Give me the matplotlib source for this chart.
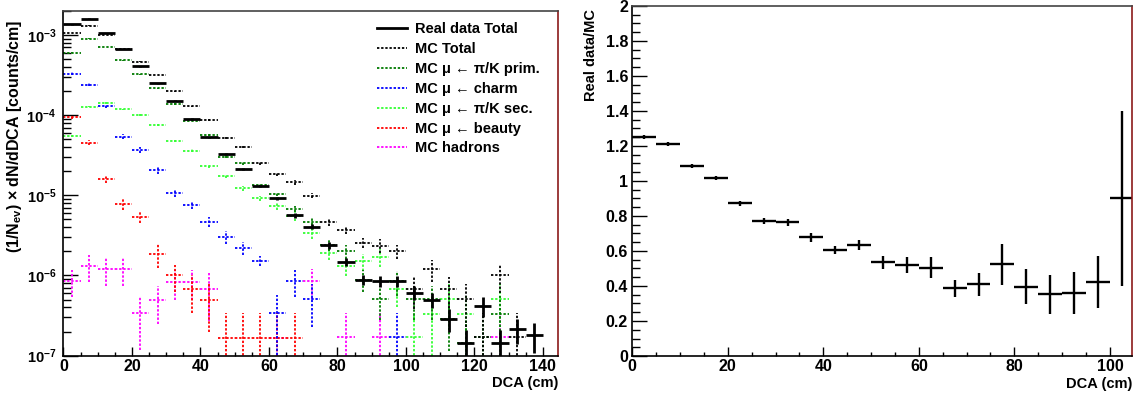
import numpy as np
import matplotlib
matplotlib.use('Agg')
import matplotlib.pyplot as plt
from matplotlib.lines import Line2D
from matplotlib.ticker import MultipleLocator, LogLocator, FuncFormatter, NullFormatter

plt.rcParams['font.family'] = ['Liberation Sans', 'DejaVu Sans']
plt.rcParams['font.weight'] = 'bold'
plt.rcParams['axes.labelweight'] = 'bold'
plt.rcParams['axes.unicode_minus'] = False
plt.rcParams['mathtext.fontset'] = 'custom'
plt.rcParams['mathtext.rm'] = 'Liberation Sans:bold'
plt.rcParams['mathtext.bf'] = 'Liberation Sans:bold'
plt.rcParams['mathtext.it'] = 'Liberation Sans:bold:italic'

nan = np.nan

# DCA bin centres (5 cm bins)
dca = [2.5, 7.5, 12.5, 17.5, 22.5, 27.5, 32.5, 37.5, 42.5, 47.5,
       52.5, 57.5, 62.5, 67.5, 72.5, 77.5, 82.5, 87.5, 92.5, 97.5,
       102.5, 107.5, 112.5, 117.5, 122.5, 127.5, 132.5, 137.5]
half_bin = 2.5

data_total = [1.35e-3, 1.59e-3, 1.06e-3, 6.67e-4, 4.06e-4, 2.48e-4, 1.51e-4, 8.9e-5, 5.28e-5, 3.25e-5,
              2.11e-5, 1.31e-5, 9.2e-6, 5.6e-6, 4.06e-6, 2.38e-6, 1.48e-6, 8.9e-7, 8.5e-7, 8.5e-7,
              6.1e-7, 5.0e-7, 2.9e-7, 1.43e-7, 4.2e-7, 1.43e-7, 2.13e-7, 1.8e-7]
data_rel = [0.01, 0.01, 0.01, 0.01, 0.01, 0.015, 0.015, 0.02, 0.02, 0.025,
            0.03, 0.04, 0.045, 0.06, 0.07, 0.09, 0.11, 0.15, 0.15, 0.15,
            0.2, 0.22, 0.32, 0.45, 0.28, 0.45, 0.35, 0.4]

mc_total = [1.06e-3, 1.31e-3, 9.96e-4, 6.67e-4, 4.64e-4, 3.17e-4, 1.99e-4, 1.29e-4, 8.67e-5, 5.13e-5,
            4.04e-5, 2.51e-5, 1.83e-5, 1.45e-5, 9.9e-6, 4.6e-6, 3.72e-6, 2.57e-6, 2.36e-6, 2.0e-6,
            6.8e-7, 1.19e-6, 6.8e-7, 5.1e-7, 1.7e-7, 1.0e-6, 1.7e-7, nan]
mc_total_rel = [0.01, 0.01, 0.01, 0.01, 0.01, 0.01, 0.015, 0.02, 0.02, 0.03,
                0.03, 0.04, 0.05, 0.06, 0.07, 0.1, 0.12, 0.15, 0.2, 0.2,
                0.44, 0.3, 0.42, 0.55, 0.999, 0.4, 0.999, nan]

mc_prim = [6.0e-4, 8.97e-4, 7.05e-4, 4.82e-4, 3.23e-4, 2.15e-4, 1.37e-4, 8.5e-5, 5.69e-5, 3.03e-5,
           2.51e-5, 1.35e-5, 1.05e-5, 6.74e-6, 4.69e-6, 2.38e-6, 2.0e-6, 8.9e-7, 5.1e-7, 8.5e-7,
           5.1e-7, 5.1e-7, 2.9e-7, 1.43e-7, 1.7e-7, 3.3e-7, nan, nan]
mc_prim_rel = [0.01, 0.01, 0.01, 0.01, 0.01, 0.015, 0.02, 0.02, 0.03, 0.04,
               0.04, 0.05, 0.06, 0.08, 0.1, 0.15, 0.2, 0.3, 0.45, 0.35,
               0.45, 0.45, 0.6, 0.9, 0.999, 0.7, nan, nan]

mc_charm = [3.3e-4, 2.4e-4, 1.29e-4, 5.37e-5, 3.67e-5, 2.07e-5, 1.06e-5, 7.6e-6, 4.7e-6, 3.03e-6,
            2.21e-6, 1.53e-6, 3.37e-7, 8.5e-7, 5.1e-7, nan, nan, nan, nan, 1.7e-7,
            nan, nan, nan, nan, nan, nan, nan, nan]
mc_charm_rel = [0.03, 0.04, 0.05, 0.07, 0.08, 0.1, 0.11, 0.12, 0.15, 0.18,
                0.18, 0.14, 0.7, 0.37, 0.55, nan, nan, nan, nan, 0.999,
                nan, nan, nan, nan, nan, nan, nan, nan]

mc_sec = [5.48e-5, 1.27e-4, 1.42e-4, 1.18e-4, 1.0e-4, 7.5e-5, 4.75e-5, 3.61e-5, 2.32e-5, 1.76e-5,
          1.22e-5, 9.2e-6, 7.3e-6, 5.5e-6, 3.4e-6, 1.93e-6, 1.3e-6, 1.5e-6, 1.7e-6, 6.8e-7,
          1.7e-7, 3.3e-7, 5.1e-7, 3.3e-7, nan, 5.1e-7, nan, nan]
mc_sec_rel = [0.03, 0.02, 0.02, 0.02, 0.02, 0.03, 0.03, 0.04, 0.05, 0.06,
              0.07, 0.08, 0.1, 0.12, 0.15, 0.2, 0.25, 0.25, 0.25, 0.4,
              0.999, 0.7, 0.55, 0.7, nan, 0.55, nan, nan]

mc_beauty = [9.35e-5, 4.53e-5, 1.6e-5, 7.8e-6, 5.36e-6, 1.86e-6, 1.0e-6, 6.8e-7, 5.0e-7, 1.68e-7,
             1.68e-7, 1.68e-7, 1.68e-7, 1.68e-7, nan, nan, nan, nan, nan, nan,
             nan, nan, nan, nan, nan, nan, nan, nan]
mc_beauty_rel = [0.05, 0.07, 0.12, 0.15, 0.15, 0.33, 0.37, 0.5, 0.6, 0.999,
                 0.999, 0.999, 0.999, 0.999, nan, nan, nan, nan, nan, nan,
                 nan, nan, nan, nan, nan, nan, nan, nan]

mc_hadrons = [8.5e-7, 1.33e-6, 1.19e-6, 1.19e-6, 3.37e-7, 5.0e-7, 8.3e-7, 8.3e-7, 6.8e-7, nan,
              nan, nan, 1.68e-7, nan, 8.5e-7, nan, 1.7e-7, nan, 1.7e-7, nan,
              nan, nan, nan, nan, nan, 1.7e-7, nan, nan]
mc_hadrons_rel = [0.37, 0.37, 0.37, 0.37, 0.65, 0.5, 0.4, 0.4, 0.6, nan,
                  nan, nan, 0.999, nan, 0.4, nan, 0.999, nan, 0.999, nan,
                  nan, nan, nan, nan, nan, 0.999, nan, nan]

# ratio panel (bins 0-105 cm)
ratio = [1.253, 1.211, 1.086, 1.015, 0.872, 0.771, 0.764, 0.678, 0.606, 0.634,
         0.535, 0.52, 0.505, 0.387, 0.41, 0.524, 0.396, 0.352, 0.362, 0.423, 0.901]
ratio_err = [0.012, 0.01, 0.01, 0.012, 0.015, 0.015, 0.02, 0.025, 0.025, 0.03,
             0.038, 0.048, 0.06, 0.05, 0.065, 0.117, 0.1, 0.11, 0.12, 0.15, 0.5]

dot = (0, (1.3, 1.0))
mc_series = [
    (mc_total, mc_total_rel, 'black', 'MC Total'),
    (mc_prim, mc_prim_rel, '#007a00', 'MC μ ← π/K prim.'),
    (mc_charm, mc_charm_rel, '#0000ff', 'MC μ ← charm'),
    (mc_sec, mc_sec_rel, '#33ff33', 'MC μ ← π/K sec.'),
    (mc_beauty, mc_beauty_rel, '#ff0000', 'MC μ ← beauty'),
    (mc_hadrons, mc_hadrons_rel, '#ff00ff', 'MC hadrons'),
]

fig = plt.figure(figsize=(11.37, 3.96), dpi=100)
ax1 = fig.add_axes([0.0558, 0.1018, 0.4352, 0.871])
ax2 = fig.add_axes([0.5561, 0.101, 0.4398, 0.884])

x = np.array(dca)
handles = [Line2D([], [], color='black', lw=2.0)]
labels = ['Real data Total']
# draw from the bottom-most component up so the total sits on top
for vals, rel, col, lab in reversed(mc_series):
    v = np.array(vals)
    e = v * np.array(rel)
    eb = ax1.errorbar(x, v, xerr=half_bin, yerr=e, fmt='none', ecolor=col, elinewidth=1.3)
    for lc in eb[2]:
        lc.set_linestyle(dot)
for vals, rel, col, lab in mc_series:
    handles.append(Line2D([], [], color=col, lw=1.3, linestyle=dot))
    labels.append(lab)

d = np.array(data_total)
ax1.errorbar(x, d, xerr=half_bin, yerr=d * np.array(data_rel), fmt='none',
             ecolor='black', elinewidth=2.0)

ax1.set_yscale('log', nonpositive='clip')
ax1.set_xlim(0, 144.5)
ax1.set_ylim(1e-7, 2e-3)
ax1.xaxis.set_major_locator(MultipleLocator(20))
ax1.xaxis.set_minor_locator(MultipleLocator(5))
ax1.yaxis.set_major_locator(LogLocator(base=10))
ax1.yaxis.set_minor_locator(LogLocator(base=10, subs=np.arange(2, 10)))
ax1.yaxis.set_minor_formatter(NullFormatter())
ax1.xaxis.set_major_formatter(FuncFormatter(lambda v, p: '%g' % v))

ax1.legend(handles, labels, loc='upper left', bbox_to_anchor=(0.6336, 0.966),
           frameon=False, prop={'weight': 'bold', 'size': 10.5},
           handlelength=2.05, handletextpad=0.55,
           labelspacing=0.4, borderaxespad=0, borderpad=0)

ax1.set_xlabel('DCA (cm)', fontsize=10.5, loc='right')
ax1.xaxis.set_label_coords(1.0, -0.06)
ax1.set_ylabel('(1/N$_{\\rm ev}$) × dN/dDCA [counts/cm]', fontsize=11.5, loc='top')
ax1.yaxis.set_label_coords(-0.079, 0.973)

ax2.errorbar(x[:len(ratio)], ratio, xerr=half_bin, yerr=ratio_err, fmt='none',
             ecolor='black', elinewidth=1.7)
ax2.set_xlim(0, 104.7)
ax2.set_ylim(0, 2)
ax2.xaxis.set_major_locator(MultipleLocator(20))
ax2.xaxis.set_minor_locator(MultipleLocator(5))
ax2.yaxis.set_major_locator(MultipleLocator(0.2))
ax2.yaxis.set_minor_locator(MultipleLocator(0.05))
ax2.xaxis.set_major_formatter(FuncFormatter(lambda v, p: '%g' % v))
ax2.yaxis.set_major_formatter(FuncFormatter(lambda v, p: '%g' % round(v, 2)))
ax2.set_xlabel('DCA (cm)', fontsize=10.5, loc='right')
ax2.xaxis.set_label_coords(1.0, -0.06)
ax2.set_ylabel('Real data/MC', fontsize=10.5, loc='top')
ax2.yaxis.set_label_coords(-0.069, 0.99)

for ax in (ax1, ax2):
    ax.tick_params(which='both', direction='in', top=False, right=False, labelsize=11.5)
    ax.tick_params(axis='x', which='major', length=6.5, width=1.0, pad=2.5)
    ax.tick_params(axis='x', which='minor', length=3.2, width=1.0)
    ax.tick_params(axis='y', which='major', length=10.5, width=1.0)
    ax.tick_params(axis='y', which='minor', length=5.5, width=1.0)
    ax.spines['left'].set_color('black')
    ax.spines['bottom'].set_color('black')
    ax.spines['top'].set_color('#444444')
    ax.spines['right'].set_color('#8b1a1a')
    for s in ax.spines.values():
        s.set_linewidth(1.2)
ax1.tick_params(axis='y', which='major', pad=5, labelsize=10.5)
ax2.tick_params(axis='y', which='major', pad=3)

fig.savefig('out.png', dpi=100)
